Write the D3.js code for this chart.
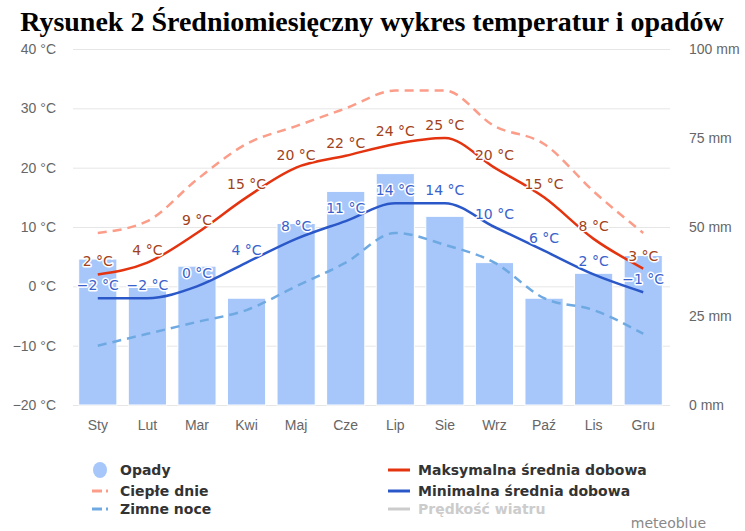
<!DOCTYPE html>
<html>
<head>
<meta charset="utf-8">
<script src="https://cdn.jsdelivr.net/npm/d3@7"></script>
<style>
  body { margin: 0; background: #fff; }
  svg { display: block; }
</style>
</head>
<body>
<div id="chart"></div>
<script>
// values
const months = ["Sty", "Lut", "Mar", "Kwi", "Maj", "Cze", "Lip", "Sie", "Wrz", "Paź", "Lis", "Gru"];
const precip = [41, 33, 39, 30, 51, 60, 65, 53, 40, 30, 37, 42];
const tMax = [2, 4, 9, 15, 20, 22, 24, 25, 20, 15, 8, 3];
const tMin = [-2, -2, 0, 4, 8, 11, 14, 14, 10, 6, 2, -1];
const warmDays = [9, 11, 18, 24, 27, 30, 33, 33, 27, 24, 16, 9];
const coldNights = [-10, -8, -6, -4, 0, 4, 9, 7, 4, -2, -4, -8];
const tempTicks = [-20, -10, 0, 10, 20, 30, 40];
const mmTicks = [0, 25, 50, 75, 100];

const W = 745, H = 531;
const svg = d3.select("#chart").append("svg")
    .attr("width", W)
    .attr("height", H);

const x = d3.scaleBand()
    .domain(months)
    .range([73, 668])
    .paddingInner(0.23)
    .paddingOuter(0.115);
const cx = m => x(m) + x.bandwidth() / 2;

const yT = d3.scaleLinear().domain([-20, 40]).range([405, 49]);
const yP = d3.scaleLinear().domain([0, 100]).range([405, 49]);

// title
svg.append("text")
    .attr("x", 372)
    .attr("y", 31)
    .attr("text-anchor", "middle")
    .attr("font-family", "'Liberation Serif', 'Times New Roman', serif")
    .attr("font-weight", "bold")
    .attr("font-size", "28px")
    .attr("fill", "#000")
    .text("Rysunek 2 Średniomiesięczny wykres temperatur i opadów");

// grid
svg.append("g").selectAll("line").data(tempTicks).enter().append("line")
    .attr("x1", 73).attr("x2", 670)
    .attr("y1", d => yT(d) + 0.5).attr("y2", d => yT(d) + 0.5)
    .attr("stroke", "#e6e6e6")
    .attr("stroke-width", 1);

// left axis
const axisFont = "'Liberation Sans', Arial, sans-serif";
const leftAxis = svg.append("g")
    .attr("transform", "translate(62,0)")
    .call(d3.axisLeft(yT).tickValues(tempTicks).tickSize(0).tickPadding(6)
        .tickFormat(d => (d < 0 ? "−" + Math.abs(d) : d) + " °C"));
leftAxis.select(".domain").remove();
leftAxis.selectAll("text")
    .attr("font-family", axisFont).attr("font-size", "14px").attr("fill", "#666");

// right axis
const rightAxis = svg.append("g")
    .attr("transform", "translate(683,0)")
    .call(d3.axisRight(yP).tickValues(mmTicks).tickSize(0).tickPadding(6)
        .tickFormat(d => d + " mm"));
rightAxis.select(".domain").remove();
rightAxis.selectAll("text")
    .attr("font-family", axisFont).attr("font-size", "14px").attr("fill", "#666");

// bottom axis
const bottomAxis = svg.append("g")
    .attr("transform", "translate(0,405)")
    .call(d3.axisBottom(x).tickSize(0).tickPadding(15));
bottomAxis.select(".domain").remove();
bottomAxis.selectAll("text")
    .attr("font-family", "'Liberation Sans Narrow', 'Arial Narrow', " + axisFont)
    .attr("font-stretch", "condensed")
    .attr("font-size", "14px").attr("fill", "#666");

// precipitation bars
svg.append("g").selectAll("rect").data(precip).enter().append("rect")
    .attr("x", (d, i) => x(months[i]))
    .attr("y", d => yP(d))
    .attr("width", x.bandwidth())
    .attr("height", d => yP(0) - yP(d))
    .attr("fill", "#a7c7fb")
    .attr("stroke", "#fff")
    .attr("stroke-width", 1);

// temperature lines
const line = d3.line()
    .x((d, i) => cx(months[i]))
    .y(d => yT(d))
    .curve(d3.curveMonotoneX);

const series = [
    { data: coldNights, color: "#6fa9e2", dash: "9,6" },
    { data: warmDays, color: "#fb9d89", dash: "9,6" },
    { data: tMin, color: "#2b58c9", dash: null },
    { data: tMax, color: "#e4330f", dash: null }
];
series.forEach(s => {
    svg.append("path")
        .datum(s.data)
        .attr("d", line)
        .attr("fill", "none")
        .attr("stroke", s.color)
        .attr("stroke-width", 2.5)
        .attr("stroke-dasharray", s.dash);
});

// data labels
function labels(data, color) {
    svg.append("g").selectAll("text").data(data).enter().append("text")
        .attr("x", (d, i) => cx(months[i]))
        .attr("y", d => yT(d) - 8)
        .attr("text-anchor", "middle")
        .attr("font-family", "'DejaVu Sans', sans-serif")
        .attr("font-size", "14px")
        .attr("fill", color)
        .attr("stroke", "#fff")
        .attr("stroke-width", 3)
        .attr("stroke-linejoin", "round")
        .attr("paint-order", "stroke")
        .text(d => (d < 0 ? "−" + Math.abs(d) : d) + " °C");
}
labels(tMin, "#3a62cc");
labels(tMax, "#a2421b");

// legend
const legendFont = "'DejaVu Sans', sans-serif";
const legendLeft = [
    { name: "Opady", type: "dot", color: "#a7c7fb", y: 470 },
    { name: "Ciepłe dnie", type: "dash", color: "#fb9d89", y: 491 },
    { name: "Zimne noce", type: "dash", color: "#6fa9e2", y: 509 }
];
const legendRight = [
    { name: "Maksymalna średnia dobowa", color: "#e4330f", text: "#333", y: 470 },
    { name: "Minimalna średnia dobowa", color: "#2b58c9", text: "#333", y: 491 },
    { name: "Prędkość wiatru", color: "#cccccc", text: "#cccccc", y: 509 }
];

legendLeft.forEach(d => {
    const g = svg.append("g");
    if (d.type === "dot") {
        g.append("ellipse").attr("cx", 100).attr("cy", d.y)
            .attr("rx", 7).attr("ry", 8).attr("fill", d.color);
    } else {
        g.append("line").attr("x1", 92).attr("x2", 102)
            .attr("y1", d.y).attr("y2", d.y)
            .attr("stroke", d.color).attr("stroke-width", 3);
        g.append("line").attr("x1", 106).attr("x2", 108)
            .attr("y1", d.y).attr("y2", d.y)
            .attr("stroke", d.color).attr("stroke-width", 3);
    }
    g.append("text").attr("x", 120).attr("y", d.y + 5)
        .attr("font-family", legendFont).attr("font-weight", "bold")
        .attr("font-size", "14px").attr("fill", "#333")
        .text(d.name);
});

legendRight.forEach(d => {
    const g = svg.append("g");
    g.append("line").attr("x1", 388).attr("x2", 410)
        .attr("y1", d.y).attr("y2", d.y)
        .attr("stroke", d.color).attr("stroke-width", 3);
    g.append("text").attr("x", 418).attr("y", d.y + 5)
        .attr("font-family", legendFont).attr("font-weight", "bold")
        .attr("font-size", "14px").attr("fill", d.text)
        .text(d.name);
});

svg.append("text")
    .attr("x", 706).attr("y", 528)
    .attr("text-anchor", "end")
    .attr("font-family", legendFont)
    .attr("font-size", "14px")
    .attr("fill", "#888")
    .text("meteoblue");
</script>
</body>
</html>
